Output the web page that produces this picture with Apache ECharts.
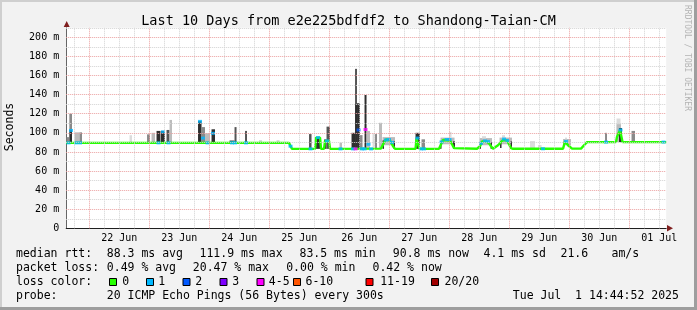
<!DOCTYPE html>
<html><head><meta charset="utf-8">
<script src="https://cdn.jsdelivr.net/npm/echarts@6/dist/echarts.min.js"></script>
<style>html,body{margin:0;padding:0;background:#f2f2f2}#c{width:697px;height:310px}</style>
</head><body><div id="c"></div>
<script>
// ---------- DATA (time = hours since 21 Jun 00:00, values in ms) ----------
const titleText = 'Last 10 Days from e2e225bdfdf2 to Shandong-Taian-CM';
const timeStart = 14.748, timeEnd = 254.748;
const dayLabels = ['22 Jun','23 Jun','24 Jun','25 Jun','26 Jun','27 Jun','28 Jun','29 Jun','30 Jun','01 Jul'];
const dayLabelHours = [36,60,84,108,132,156,180,204,228,252];
const yTickValues = [0,20,40,60,80,100,120,140,160,180,200];

const medianT = [14.75,103.88,104.48,105.08,114.28,114.68,116.28,116.68,117.88,118.28,119.88,120.28,
  140.68,141.88,142.68,144.28,145.48,146.28,154.48,154.88,155.68,156.08,163.88,164.68,165.48,168.28,
  169.08,169.88,170.68,179.08,180.28,181.08,182.68,183.88,184.68,185.48,186.28,187.48,188.28,189.48,
  191.08,191.88,192.68,193.48,213.48,214.28,215.08,215.48,216.28,217.08,220.68,221.88,223.08,234.68,
  235.08,235.88,236.28,236.88,237.28,254.75];
const medianV = [89.5,89.5,86,83.2,83.2,95,95,83.2,83.2,91.5,91.5,83.2,
  83.5,90,93,92,86,83.2,83.2,94,94,83.2,83.3,88,92.5,92,
  88,84,83.3,83.3,86,91,91,89,86,83.3,85,87,89,92.5,
  92,88,84,83.3,83.3,91,90,87,85,83.5,83.5,87,90.3,90.3,
  96,96,103,103,90.3,90.3];

const lossT = [15.68,16.68,18.68,20.28,51.68,53.48,55.68,68.28,69.48,71.28,73.48,81.08,82.28,86.68,
  104.48,112.48,115.48,119.08,124.48,129.48,130.48,131.68,133.08,134.08,134.48,135.68,136.68,
  142.68,143.88,145.08,155.28,156.68,157.88,164.88,166.88,168.08,180.68,182.28,183.48,189.88,191.28,
  205.48,214.68,230.68,236.48,253.68];
const lossV = [89.5,102.5,89.5,89.5,89.5,101,89.5,112,94.5,89.5,99.5,89.5,89.5,89.5,
  86,83.2,95,91.5,83.2,83.2,83.2,103,83.2,83.2,103.5,88,83.2,
  92.5,93,90,94.5,83.2,83.2,90.5,93,93,89,91.5,91,93.5,92,
  83.3,91,90.3,103,90.3];
const lossC = [1,1,1,1,1,1,1,1,1,1,1,1,1,1,
  1,1,1,1,1,1,4,2,1,1,4,1,1,
  1,1,1,1,1,1,1,1,1,1,1,1,1,1,
  1,1,1,1,1];

// smoke: start time, end time, low, high, shade index (0 darkest .. 4 lightest)
const smokeT0 = [14.88,16.0,16.0,18.08,20.08,40.08,47.08,48.88,50.88,52.48,54.88,56.08,67.48,68.88,70.28,72.88,
  80.08,82.08,86.28,91.88,98.88,111.88,114.48,117.88,118.88,124.08,128.88,130.28,130.28,131.08,132.28,134.08,
  134.88,137.28,138.28,139.88,141.28,141.28,145.68,154.48,156.88,164.48,167.88,164.28,169.48,180.08,181.08,
  180.08,184.48,188.08,189.08,188.28,192.48,200.28,203.48,213.48,214.28,230.28,234.88,234.88,235.88,240.88];
const smokeT1 = [15.88,17.08,17.08,20.08,21.08,41.08,48.28,50.28,52.28,54.28,56.08,57.08,68.88,70.28,72.28,74.28,
  82.08,82.88,87.08,93.08,100.08,112.88,116.28,118.88,120.28,125.08,130.28,131.08,131.08,132.28,133.28,134.88,
  136.28,138.08,139.08,141.08,146.28,141.88,146.28,156.28,158.28,170.08,168.88,164.88,170.28,185.08,182.68,
  180.68,185.08,193.08,190.28,188.88,193.08,202.28,204.88,216.68,215.08,231.08,236.48,236.68,237.08,242.28];
const smokeLo = [89.5,103,89.5,89.5,89.5,89.5,89.5,89.5,89.5,89.5,89.5,89.5,89.5,89.5,89.5,89.5,
  89.5,89.5,89.5,89.5,89.5,83.2,83.2,83.2,83.2,83.2,83.2,131,83.2,83.2,83.2,83.2,
  83.2,83.2,83.2,83.2,87,83.2,83.2,83.2,83.2,88,94,83.3,83.3,87,94,
  83.3,83.3,88,94,84,83.3,83.3,83.3,87,93,90.3,90.3,90.3,90.3,90.3];
const smokeHi = [95.5,120,103,100.5,100.5,97.5,98.4,100,102,102,103,113.5,112.5,106,99.5,103.7,
  92,106,102,92.5,92.5,98.7,95.5,93,106.5,89.7,100,167,131,131,97.6,139.6,
  102,99.5,98.7,110.5,95.5,92,91,100,93.2,95,101,91,91,94.5,96.5,
  90,90,95,97.5,91,91,91.4,87.2,93.5,95,100,115,109,105,102];
const smokeShade = [2,2,0,3,2,4,2,3,0,0,1,3,0,2,3,0,
  1,1,1,4,4,1,0,0,1,3,0,1,0,0,2,0,
  3,4,2,3,3,0,0,0,2,3,4,0,0,3,4,
  0,0,3,4,0,0,4,4,3,4,2,4,3,0,2];

const lossColors = ['#26ff00','#00b8ff','#0059ff','#7e00ff','#ff00ff','#ff5500','#ff0000','#a10000'];
const lossLabels = ['0','1','2','3','4-5','6-10','11-19','20/20'];

const rowMedian = ['median rtt:','88.3 ms avg','111.9 ms max','83.5 ms min','90.8 ms now','4.1 ms sd','21.6','am/s'];
const rowLoss = ['packet loss:','0.49 % avg','20.47 % max','0.00 % min','0.42 % now'];
const rowProbe = ['probe:','20 ICMP Echo Pings (56 Bytes) every 300s','Tue Jul  1 14:44:52 2025'];
const rowColorTitle = 'loss color:';
const yAxisTitle = 'Seconds';
const watermark = 'RRDTOOL / TOBI OETIKER';

// ---------- LAYOUT / STYLE ----------
const FONT = '"DejaVu Sans Mono", monospace';
const shadeColors = ['#2e2e2e','#555555','#8a8a8a','#bcbcbc','#dcdcdc'];
const minorGridColor = '#d2d2d2';
const majorGridColor = '#eba0a0';

const chart = echarts.init(document.getElementById('c'), null, {renderer:'canvas'});

const gridMarks = [];
for (let h = 18; h <= 252; h += 6) {
  if (h > timeStart && h < timeEnd) {
    const major = h % 24 === 0;
    gridMarks.push({xAxis: h, lineStyle: {color: major ? majorGridColor : minorGridColor, type: [1,1], width: 1}});
  }
}
for (let v = 10; v <= 210; v += 10) {
  const major = v % 20 === 0;
  gridMarks.push({yAxis: v, lineStyle: {color: major ? majorGridColor : minorGridColor, type: [1,1], width: 1}});
}

const smokeData = smokeT0.map((t, i) => [t, smokeT1[i], smokeLo[i], smokeHi[i], smokeShade[i]]);
const medianData = medianT.map((t, i) => [t, medianV[i]]);
const lossData = lossT.map((t, i) => [t, lossV[i], lossC[i]]);

const g = [];
function txt(x, y, s) {
  g.push({type:'text', x: x, y: y, silent:true,
    style: {text: s, font: '11.5px ' + FONT, fill: '#000', textVerticalAlign: 'middle', textAlign: 'left'}});
}
const row1X = [16,106.8,199.5,299.5,392.8,483.5,560.5,611.5];
rowMedian.forEach((s, i) => txt(row1X[i], 254.5, s));
const row2X = [16,106.8,192.8,286.2,372.5];
rowLoss.forEach((s, i) => txt(row2X[i], 268.3, s));
txt(16, 282, rowColorTitle);
const boxX = [109,146,182.5,219.5,256.5,293,365.5,431];
const boxLabelX = [122.3,158.3,195.3,232.3,268.8,305.5,380.2,444.5];
lossLabels.forEach((s, i) => {
  g.push({type:'rect', silent:true, shape:{x: boxX[i]+0.5, y: 278.5, width: 7, height: 7},
    style:{fill: lossColors[i], stroke:'#000', lineWidth:1}});
  txt(boxLabelX[i], 282, s);
});
const row4X = [16,106.8,512.8];
rowProbe.forEach((s, i) => txt(row4X[i], 296, s));

g.push({type:'text', x: 10.5, y: 127, rotation: Math.PI/2, silent:true,
  style:{text: yAxisTitle, font: '11.5px ' + FONT, fill:'#000', textAlign:'center', textVerticalAlign:'middle'}});
g.push({type:'text', x: 687, y: 5, rotation: -Math.PI/2, silent:true,
  style:{text: watermark, font: '8px ' + FONT, fill:'#b4b4b4', textAlign:'left', textVerticalAlign:'middle'}});
g.push({type:'polygon', silent:true, shape:{points:[[63.7,27],[69.7,27],[66.7,21]]}, style:{fill:'#801f1f'}});
g.push({type:'polygon', silent:true, shape:{points:[[667,225],[667,231.6],[673,228.3]]}, style:{fill:'#801f1f'}});
g.push({type:'rect', silent:true, shape:{x:0,y:0,width:697,height:2}, style:{fill:'#cfcfcf'}});
g.push({type:'rect', silent:true, shape:{x:0,y:0,width:2,height:310}, style:{fill:'#cfcfcf'}});
g.push({type:'rect', silent:true, shape:{x:0,y:307,width:697,height:3}, style:{fill:'#9e9e9e'}});
g.push({type:'rect', silent:true, shape:{x:694,y:0,width:3,height:310}, style:{fill:'#9e9e9e'}});

const option = {
  animation: false,
  backgroundColor: '#f2f2f2',
  title: {text: titleText, left: 'center', top: 9,
    textStyle: {fontFamily: FONT, fontSize: 13.5, fontWeight: 'normal', color: '#000'}},
  grid: {left: 66.2, width: 600, top: 27.8, height: 200.5, show: true, backgroundColor: '#fff', borderWidth: 0},
  xAxis: {type: 'value', min: timeStart, max: timeEnd,
    axisLine: {show: true, lineStyle: {color: '#1f1f1f', width: 1}},
    axisTick: {show: false}, splitLine: {show: false},
    axisLabel: {customValues: dayLabelHours, fontFamily: FONT, fontSize: 10, color: '#000', margin: 5,
      formatter: v => { const i = dayLabelHours.indexOf(Math.round(v)); return i < 0 ? '' : dayLabels[i]; }}},
  yAxis: {type: 'value', min: 0, max: 210,
    axisLine: {show: true, lineStyle: {color: '#666', width: 1}},
    axisTick: {show: false}, splitLine: {show: false},
    axisLabel: {customValues: yTickValues, fontFamily: FONT, fontSize: 10, color: '#000', margin: 7,
      formatter: v => v === 0 ? '0' : (v > 200 ? '' : v + ' m')}},
  series: [
    {type: 'line', name: 'grid', data: [[timeStart, -10]], symbol: 'none', lineStyle: {opacity: 0}, silent: true, z: 1,
      markLine: {silent: true, symbol: ['none','none'], label: {show: false}, animation: false,
        emphasis: {disabled: true}, data: gridMarks}},
    {type: 'custom', name: 'smoke', z: 2, silent: true, data: smokeData,
      encode: {x: [0,1], y: [2,3]},
      renderItem: (params, api) => {
        const p0 = api.coord([api.value(0), api.value(3)]);
        const p1 = api.coord([api.value(1), api.value(2)]);
        return {type: 'rect', shape: {x: p0[0], y: p0[1], width: p1[0]-p0[0], height: p1[1]-p0[1]},
          style: {fill: shadeColors[api.value(4)]}};
      }},
    {type: 'line', name: 'median', z: 3, silent: true, data: medianData, symbol: 'none',
      lineStyle: {color: lossColors[0], width: 2.4}},
    {type: 'scatter', name: 'loss', z: 4, silent: true, data: lossData, symbol: 'rect', symbolSize: [4,3],
      itemStyle: {color: p => lossColors[p.data[2]]}}
  ],
  graphic: g
};
chart.setOption(option);
</script></body></html>
